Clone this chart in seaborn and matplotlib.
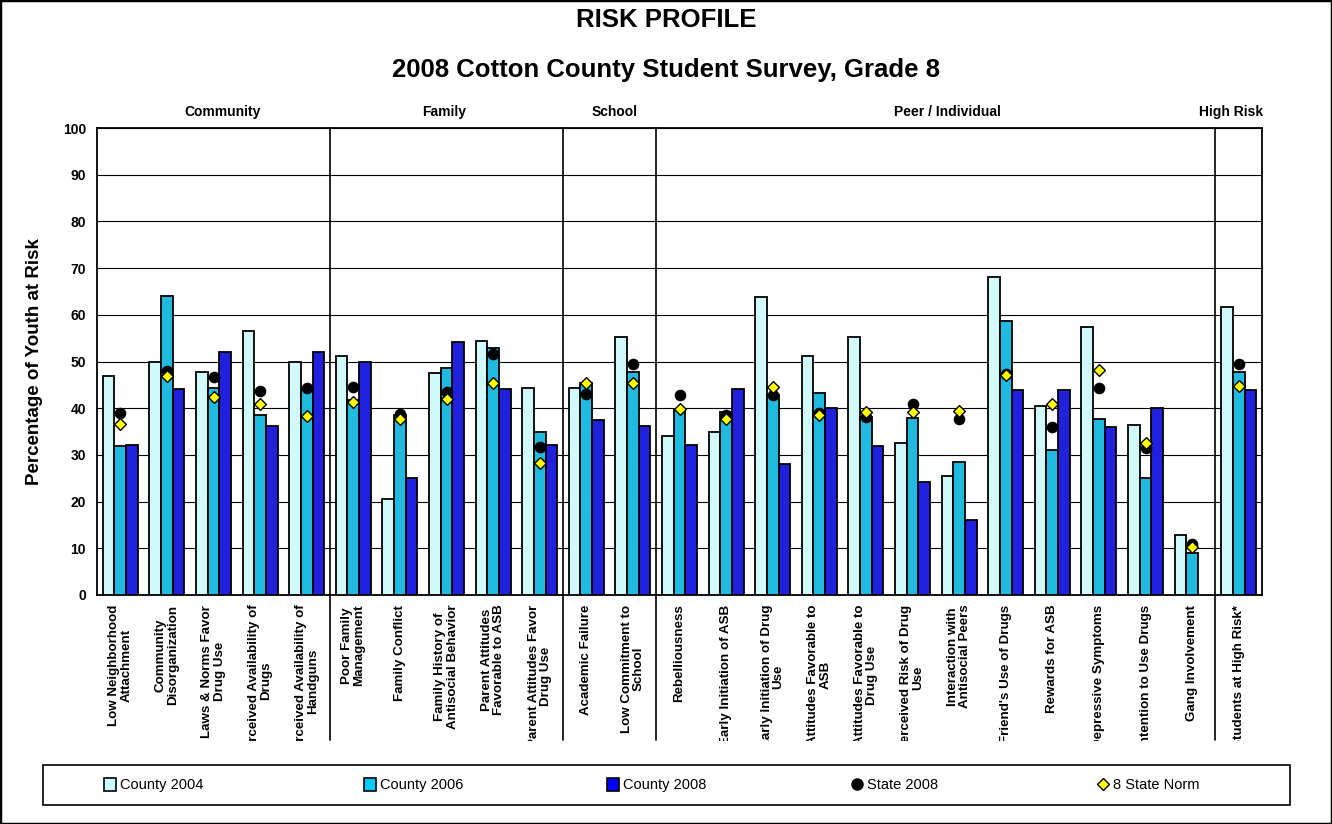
import numpy as np
import pandas as pd
import matplotlib
matplotlib.use("Agg")
import matplotlib.pyplot as plt
import seaborn as sns
from matplotlib.patches import Patch, Rectangle
from matplotlib.lines import Line2D
from matplotlib.transforms import Bbox, TransformedBbox

categories = [
    "Low Neighborhood\nAttachment",
    "Community\nDisorganization",
    "Laws & Norms Favor\nDrug Use",
    "Perceived Availability of\nDrugs",
    "Perceived Availability of\nHandguns",
    "Poor Family\nManagement",
    "Family Conflict",
    "Family History of\nAntisocial Behavior",
    "Parent Attitudes\nFavorable to ASB",
    "Parent Attitudes Favor\nDrug Use",
    "Academic Failure",
    "Low Commitment to\nSchool",
    "Rebelliousness",
    "Early Initiation of ASB",
    "Early Initiation of Drug\nUse",
    "Attitudes Favorable to\nASB",
    "Attitudes Favorable to\nDrug Use",
    "Perceived Risk of Drug\nUse",
    "Interaction with\nAntisocial Peers",
    "Friend's Use of Drugs",
    "Rewards for ASB",
    "Depressive Symptoms",
    "Intention to Use Drugs",
    "Gang Involvement",
    "Students at High Risk*",
]

county_2004 = [46.8, 50.0, 47.8, 56.5, 50.0, 51.1, 20.6, 47.6, 54.3, 44.4, 44.4, 55.3, 34.1,
               34.9, 63.8, 51.1, 55.3, 32.6, 25.5, 68.1, 40.5, 57.3, 36.3, 12.8, 61.6]
county_2006 = [31.8, 64.1, 44.4, 38.6, 44.0, 41.8, 38.6, 48.7, 52.9, 35.0, 45.3, 47.7, 39.8,
               39.1, 42.9, 43.2, 38.2, 37.8, 28.4, 58.6, 31.1, 37.7, 25.0, 9.1, 47.7]
county_2008 = [32.1, 44.1, 52.1, 36.1, 52.1, 50.0, 25.0, 54.2, 44.1, 32.1, 37.5, 36.1, 32.1,
               44.1, 28.1, 40.0, 32.0, 24.1, 16.1, 44.0, 44.0, 36.0, 40.0, np.nan, 44.0]
state_2008 = [38.9, 47.9, 46.7, 43.7, 44.4, 44.5, 38.7, 43.4, 51.6, 31.6, 43.1, 49.5, 42.9,
              38.5, 42.9, 38.9, 38.1, 40.9, 37.6, 47.4, 35.9, 44.3, 31.4, 10.9, 49.4]
state_norm = [36.6, 46.8, 42.5, 41.0, 38.4, 41.3, 37.6, 42.0, 45.4, 28.3, 45.5, 45.5, 39.9,
              37.7, 44.6, 38.6, 39.1, 39.1, 39.3, 47.2, 40.9, 48.2, 32.6, 10.2, 44.8]

bar_series = ["County 2004", "County 2006", "County 2008"]
bar_colors = ["#CCFFFF", "#00CCFF", "#0000FF"]

sections = ["Community", "Family", "School", "Peer / Individual", "High Risk"]
section_x = [2.2, 6.95, 10.6, 17.76, 23.83]
separators = [4.5, 9.5, 11.5, 23.5]

sns.set_style("white")
plt.rcParams["font.family"] = ["Liberation Sans", "DejaVu Sans"]
plt.rcParams["text.color"] = "black"
plt.rcParams["axes.labelcolor"] = "black"
plt.rcParams["xtick.color"] = "black"
plt.rcParams["ytick.color"] = "black"

df = pd.DataFrame({
    "Category": categories * 3,
    "Value": county_2004 + county_2006 + county_2008,
    "Series": [s for s in bar_series for _ in categories],
})

fig = plt.figure(figsize=(13.32, 8.24), dpi=100)
W, H = 1332, 824
ax = fig.add_axes([97 / W, 1 - 595 / H, (1262 - 97) / W, (595 - 128) / H])

sns.barplot(data=df, x="Category", y="Value", hue="Series", order=categories,
            hue_order=bar_series, palette=bar_colors, width=0.75, errorbar=None,
            edgecolor="black", linewidth=1.3, ax=ax, legend=False, zorder=3)

xpos = np.arange(len(categories))
ax.scatter(xpos, state_2008, s=70, color="black", zorder=5, linewidths=0)
ax.scatter(xpos, state_norm, s=36, marker="D", color="#FFFF00", edgecolors="black",
           linewidths=1.0, zorder=6)

ax.set_xlim(-0.5, len(categories) - 0.5)
ax.set_ylim(0, 100)
ax.set_yticks(np.arange(0, 101, 10))
ax.set_yticks(np.arange(0, 101, 2), minor=True)
ax.set_yticklabels([str(v) for v in range(0, 101, 10)], fontsize=10, fontweight="bold")
ax.grid(axis="y", which="major", color="black", linewidth=0.8)
ax.set_axisbelow(True)

ax.set_xticks(xpos)
ax.set_xticks(np.arange(-0.5, len(categories), 1), minor=True)
ax.set_xticklabels(categories, rotation=90, fontsize=9.6, fontweight="bold",
                   ha="center", va="top", linespacing=1.0)
ax.tick_params(axis="x", which="major", length=0, pad=7)
ax.tick_params(axis="x", which="minor", length=5, width=1, direction="out", color="black")
ax.tick_params(axis="y", which="major", length=5, width=1, direction="out", color="black", pad=3)
ax.tick_params(axis="y", which="minor", length=3, width=1, direction="out", color="black")
ax.set_xlabel("")
ax.set_ylabel("Percentage of Youth at Risk", fontsize=13.5, fontweight="bold")
ax.yaxis.set_label_coords((43 - 97) / (1262 - 97), 0.5)

for sp in ax.spines.values():
    sp.set_color("black")
    sp.set_linewidth(1.3)
    sp.set_visible(True)

for s in separators:
    ax.axvline(s, ymin=-(740 - 595) / (595 - 128), ymax=1, color="black",
               linewidth=1.2, clip_on=False, zorder=2)

for name, x in zip(sections, section_x):
    ax.text(x, (595 - 112) / (595 - 128), name, transform=ax.get_xaxis_transform(),
            ha="center", va="center", fontsize=10, fontweight="bold")

fig.text(0.5, 1 - 20 / H, "RISK PROFILE", ha="center", va="center",
         fontsize=18.5, fontweight="bold")
fig.text(0.5, 1 - 70 / H, "2008 Cotton County Student Survey, Grade 8", ha="center",
         va="center", fontsize=18.5, fontweight="bold")

clip = TransformedBbox(Bbox([[0, (824 - 741) / H], [1, 1]]), fig.transFigure)
for lbl in ax.get_xticklabels():
    lbl.set_clip_box(clip)
    lbl.set_clip_on(True)

# legend: frame plus five entries placed in equal columns
handles = [Patch(facecolor=c, edgecolor="black", linewidth=1.2) for c in bar_colors]
handles.append(Line2D([], [], marker="o", color="black", linestyle="none", markersize=8))
handles.append(Line2D([], [], marker="D", markerfacecolor="#FFFF00", markeredgecolor="black",
                      linestyle="none", markersize=6))
labels = bar_series + ["State 2008", "8 State Norm"]
leg_x0, leg_x1 = 43 / W, 1290 / W
leg_y0, leg_y1 = 1 - 805 / H, 1 - 765 / H
fig.patches.append(Rectangle((leg_x0, leg_y0), leg_x1 - leg_x0, leg_y1 - leg_y0,
                             transform=fig.transFigure, fill=False, edgecolor="black",
                             linewidth=1.2))
col_centers_px = [154, 414, 657, 895, 1148]
for h, l, cx in zip(handles, labels, col_centers_px):
    fig.legend([h], [l], loc="center", bbox_to_anchor=(cx / W, (leg_y0 + leg_y1) / 2),
               frameon=False, fontsize=10.5, handlelength=0.8, handleheight=1.0,
               handletextpad=0.3, borderpad=0, borderaxespad=0)

fig.patches.append(Rectangle((0, 0), 1, 1, transform=fig.transFigure, fill=False,
                             edgecolor="black", linewidth=2.5))

fig.savefig("out.png", dpi=100)
